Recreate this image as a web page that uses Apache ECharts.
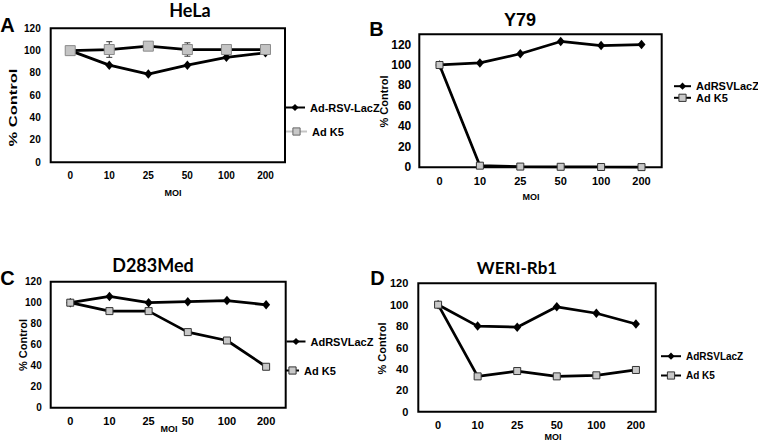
<!DOCTYPE html>
<html>
<head>
<meta charset="utf-8">
<script src="https://cdn.jsdelivr.net/npm/echarts@6/dist/echarts.min.js"></script>
<style>
html,body{margin:0;padding:0;background:#fff;}
#c{width:758px;height:445px;}
</style>
</head>
<body>
<div id="c"></div>
<script>
// ---- data ----
const categories = ['0', '10', '25', '50', '100', '200'];
const panelTitles = ['HeLa', 'Y79', 'D283Med', 'WERI-Rb1'];
const panelLetters = ['A', 'B', 'C', 'D'];
const helaRSV = [100, 87, 79, 87, 94, 98];
const helaK5 = [100, 101, 104, 101, 101, 101];
const helaK5Err = [1, 7, 1, 6, 1, 1];
const y79RSV = [100, 102, 111, 123, 119, 120];
const y79K5 = [100, 1.6, 0.7, 0.5, 0.3, 0.2];
const d283RSV = [100, 106, 100, 101, 102, 98];
const d283K5 = [100, 92, 92, 72, 64, 39];
const weriRSV = [100, 80, 79, 98, 92, 82];
const weriK5 = [100, 33, 38, 33, 34, 39];
const yMax = [120, 130, 120, 120];
const yInterval = 20;

const FONT = 'Liberation Sans, Arial, sans-serif';
const grids = [
  {left: 50.7, top: 28.3, width: 234.3, height: 134},
  {left: 419.3, top: 34.3, width: 242.4, height: 133},
  {left: 50.7, top: 281.7, width: 235, height: 126},
  {left: 418.3, top: 283.3, width: 237.4, height: 128.4}
];
const yLabelSize = [10, 12, 10, 11];
const xLabelSize = [10, 11, 11, 11];
const yLabelMargin = [10, 8, 9, 10];

const chart = echarts.init(document.getElementById('c'), null, {renderer: 'svg'});

const xAxes = grids.map((g, i) => ({
  type: 'category', gridIndex: i, data: categories,
  axisLine: {show: false}, axisTick: {show: false},
  axisLabel: {fontFamily: FONT, fontWeight: 'bold', fontSize: xLabelSize[i], color: '#000', margin: 8}
}));
const yAxes = grids.map((g, i) => ({
  type: 'value', gridIndex: i, min: 0, max: yMax[i], interval: yInterval,
  splitLine: {show: false}, axisLine: {show: false}, axisTick: {show: false},
  axisLabel: {fontFamily: FONT, fontWeight: 'bold', fontSize: yLabelSize[i], color: '#000',
    margin: yLabelMargin[i], showMaxLabel: i !== 1}
}));

const LW = 2.75;
function rsvSeries(name, idx, data) {
  return {
    type: 'line', name: name, xAxisIndex: idx, yAxisIndex: idx, data: data,
    symbol: 'diamond', symbolSize: [8, 9.5],
    lineStyle: {color: '#000', width: LW},
    itemStyle: {color: '#000'},
    emphasis: {disabled: true}, animation: false
  };
}
function k5Series(idx, data, big) {
  return {
    type: 'line', name: 'Ad K5', xAxisIndex: idx, yAxisIndex: idx, data: data,
    symbol: 'rect', symbolSize: big ? 10 : 7,
    lineStyle: {color: '#000', width: LW},
    itemStyle: {color: big ? '#c4c4c4' : '#c8c8c8', borderColor: big ? '#8a8a8a' : '#333', borderWidth: 1},
    emphasis: {disabled: true}, animation: false
  };
}

const errData = helaK5.map((v, i) => [i, v - helaK5Err[i], v + helaK5Err[i]]);
const errSeries = {
  type: 'custom', name: 'err', xAxisIndex: 0, yAxisIndex: 0, data: errData,
  encode: {x: 0, y: [1, 2]}, animation: false, silent: true,
  renderItem: function (params, api) {
    const x = api.value(0);
    const lo = api.coord([x, api.value(1)]);
    const hi = api.coord([x, api.value(2)]);
    const w = 3;
    const st = {stroke: '#333', lineWidth: 1};
    return {type: 'group', children: [
      {type: 'line', shape: {x1: lo[0], y1: lo[1], x2: hi[0], y2: hi[1]}, style: st},
      {type: 'line', shape: {x1: lo[0] - w, y1: lo[1], x2: lo[0] + w, y2: lo[1]}, style: st},
      {type: 'line', shape: {x1: hi[0] - w, y1: hi[1], x2: hi[0] + w, y2: hi[1]}, style: st}
    ]};
  }
};

const series = [
  rsvSeries('Ad-RSV-LacZ', 0, helaRSV), errSeries, k5Series(0, helaK5, true),
  rsvSeries('AdRSVLacZ', 1, y79RSV), k5Series(1, y79K5, false),
  rsvSeries('AdRSVLacZ', 2, d283RSV), k5Series(2, d283K5, false),
  rsvSeries('AdRSVLacZ', 3, weriRSV), k5Series(3, weriK5, false)
];

function leg(name, left, cy, w, fs, override) {
  const item = Object.assign({name: name}, override || {});
  return {
    data: [item], left: left, top: cy - fs / 2 - 0.5, padding: 0, orient: 'vertical',
    itemWidth: w, itemHeight: 9, selectedMode: false,
    lineStyle: {width: 2},
    textStyle: {fontFamily: FONT, fontWeight: 'bold', fontSize: fs, color: '#000', padding: [0, 0, 0, 0]}
  };
}
const k5Legend = {itemStyle: {color: '#c8c8c8', borderColor: '#333', borderWidth: 1}};
const legends = [
  leg('Ad-RSV-LacZ', 284, 108, 20, 11),
  leg('Ad K5', 285, 132, 21, 11, {itemStyle: {color: '#c8c8c8', borderColor: '#666', borderWidth: 1}, lineStyle: {color: '#c4c4c4', width: 2}}),
  leg('AdRSVLacZ', 673, 86.7, 17, 11),
  leg('Ad K5', 673, 98.3, 17, 11, k5Legend),
  leg('AdRSVLacZ', 285.5, 342, 19, 11),
  leg('Ad K5', 285, 371, 13, 11, k5Legend),
  leg('AdRSVLacZ', 660, 356.7, 20, 10),
  leg('Ad K5', 660, 376, 20, 10, k5Legend)
];

function txt(text, x, y, font, opts) {
  return Object.assign({
    type: 'text', x: x, y: y, silent: true,
    style: {text: text, x: 0, y: 0, font: font, fill: '#000', textAlign: 'center', textVerticalAlign: 'middle'}
  }, opts || {});
}
const titleFontCal = 'bold 18px Lato, sans-serif';
const titleFontAr = 'bold 18px ' + FONT;
const graphics = [
  txt(panelTitles[0], 190, 9.5, titleFontCal),
  txt(panelTitles[1], 520, 19.5, titleFontAr),
  txt(panelTitles[2], 153, 265, titleFontCal),
  txt(panelTitles[3], 517, 267, 'bold 17px Lato, sans-serif'),
  txt(panelLetters[0], 7.5, 25, 'bold 20px ' + FONT),
  txt(panelLetters[1], 376.5, 29, 'bold 20px ' + FONT),
  txt(panelLetters[2], 7.5, 277.5, 'bold 20px ' + FONT),
  txt(panelLetters[3], 377.5, 277.5, 'bold 20px ' + FONT),
  txt('% Control', 13.5, 107.5, 'bold 11px ' + FONT, {rotation: Math.PI / 2, scaleX: 1.5}),
  txt('% Control', 384, 101.5, 'bold 11px ' + FONT, {rotation: Math.PI / 2}),
  txt('% Control', 23, 345, 'bold 11px ' + FONT, {rotation: Math.PI / 2}),
  txt('% Control', 381.5, 348.5, 'bold 11px ' + FONT, {rotation: Math.PI / 2}),
  txt('MOI', 173, 193, 'bold 9px ' + FONT),
  txt('MOI', 531, 197, 'bold 9px ' + FONT),
  txt('MOI', 169, 429, 'bold 9px ' + FONT),
  txt('MOI', 553, 437, 'bold 9px ' + FONT)
];

chart.setOption({
  animation: false,
  backgroundColor: '#fff',
  grid: grids.map(g => Object.assign({show: true, borderColor: '#000', borderWidth: 2, backgroundColor: 'transparent', containLabel: false}, g)),
  xAxis: xAxes,
  yAxis: yAxes,
  legend: legends,
  series: series,
  graphic: graphics
});
</script>
</body>
</html>
